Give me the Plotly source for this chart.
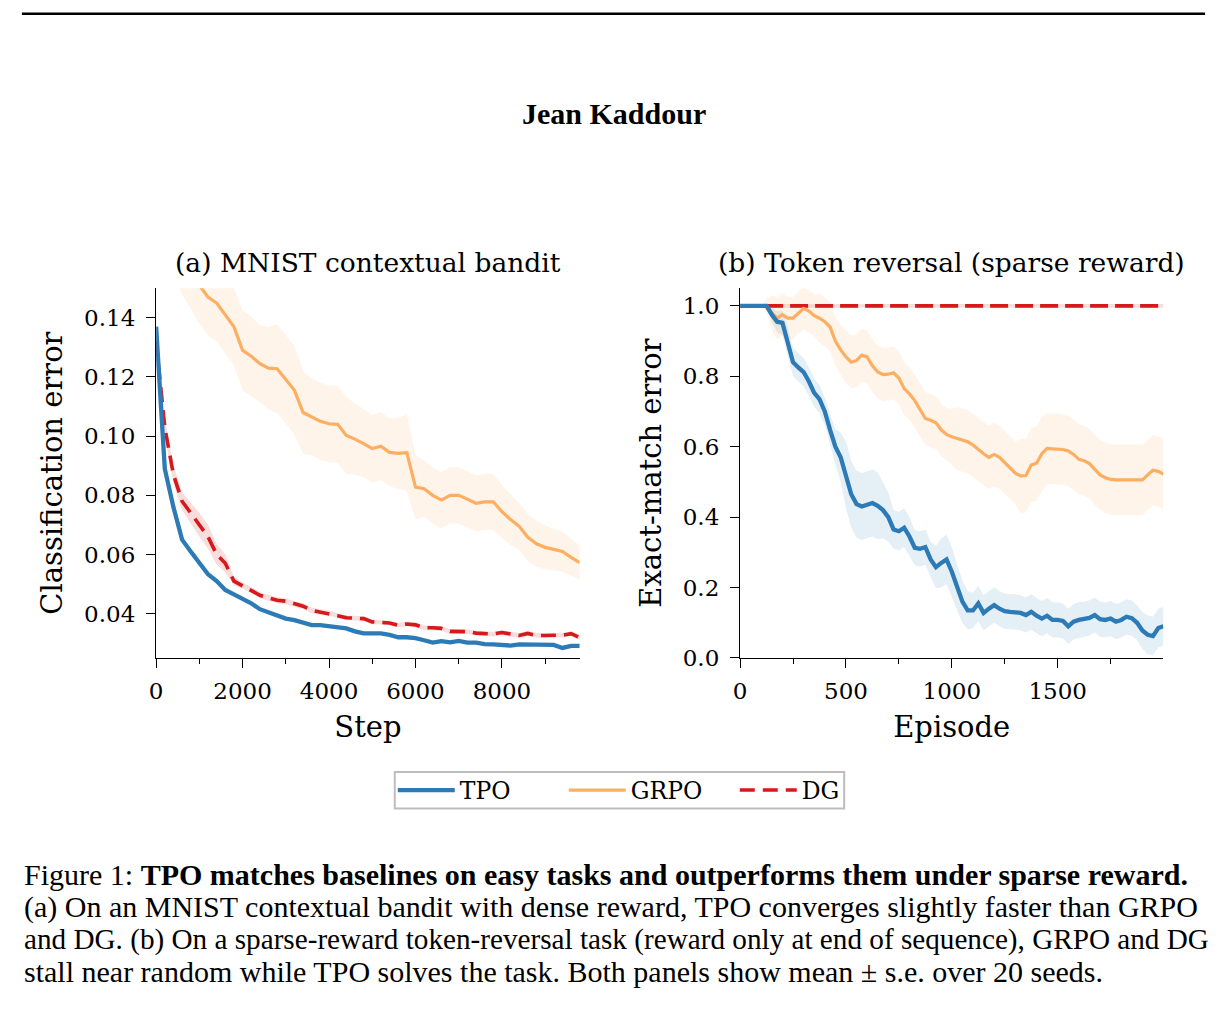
import plotly.graph_objects as go

# ---------------- data: (a) MNIST contextual bandit ----------------
steps = [0, 200, 400, 600, 800, 1000, 1200, 1400, 1600, 1800,
         2000, 2200, 2400, 2600, 2800, 3000, 3200, 3400, 3600, 3800,
         4000, 4200, 4400, 4600, 4800, 5000, 5200, 5400, 5600, 5800,
         6000, 6200, 6400, 6600, 6800, 7000, 7200, 7400, 7600, 7800,
         8000, 8200, 8400, 8600, 8800, 9000, 9200, 9400, 9600, 9800]

tpo_a = [0.137, 0.089, 0.076, 0.065, 0.061, 0.057, 0.0533, 0.051, 0.048, 0.0465,
         0.045, 0.0435, 0.0415, 0.0405, 0.0395, 0.0383, 0.0378, 0.037, 0.0361, 0.0361,
         0.0358, 0.0352, 0.035, 0.034, 0.0333, 0.0333, 0.0333, 0.0328, 0.032, 0.032,
         0.0317, 0.031, 0.0302, 0.0307, 0.0303, 0.0308, 0.0302, 0.0302, 0.0297, 0.0296,
         0.0294, 0.0292, 0.0296, 0.0295, 0.0294, 0.0295, 0.0294, 0.0284, 0.0291, 0.0291]
tpo_a_se = [0.001, 0.001, 0.0008, 0.0006, 0.0005, 0.0005, 0.0005, 0.0005, 0.0005, 0.0005,
            0.0004, 0.0004, 0.0004, 0.0004, 0.0004, 0.0004, 0.0004, 0.0004, 0.0004, 0.0004,
            0.0004, 0.0004, 0.0004, 0.0004, 0.0004, 0.0004, 0.0004, 0.0004, 0.0004, 0.0004,
            0.0004, 0.0004, 0.0004, 0.0004, 0.0004, 0.0004, 0.0004, 0.0004, 0.0004, 0.0004,
            0.0004, 0.0004, 0.0004, 0.0004, 0.0004, 0.0004, 0.0004, 0.0004, 0.0004, 0.0004]

grpo_a = [0.19, 0.178, 0.168, 0.161, 0.156, 0.151, 0.147, 0.145, 0.141, 0.137,
          0.129, 0.127, 0.1245, 0.123, 0.1228, 0.119, 0.1155, 0.108, 0.1065, 0.105,
          0.1042, 0.104, 0.1002, 0.099, 0.0975, 0.0958, 0.0966, 0.0945, 0.0942, 0.0944,
          0.0828, 0.0822, 0.080, 0.0784, 0.080, 0.080, 0.0787, 0.0773, 0.0778, 0.0778,
          0.0745, 0.0718, 0.0695, 0.0658, 0.0636, 0.0624, 0.0617, 0.061, 0.059, 0.0572]
grpo_a_se = [0.013, 0.013, 0.013, 0.013, 0.013, 0.013, 0.013, 0.013, 0.013, 0.013,
             0.0135, 0.0135, 0.013, 0.014, 0.015, 0.015, 0.015, 0.014, 0.013, 0.013,
             0.013, 0.013, 0.013, 0.012, 0.0115, 0.0115, 0.0115, 0.0115, 0.012, 0.013,
             0.011, 0.0095, 0.0095, 0.0095, 0.0095, 0.0095, 0.0095, 0.0095, 0.0095, 0.0095,
             0.009, 0.0085, 0.008, 0.008, 0.0078, 0.0075, 0.007, 0.0068, 0.0063, 0.0058]

dg_a = [0.132, 0.103, 0.087, 0.078, 0.074, 0.070, 0.066, 0.060, 0.057, 0.051,
        0.0495, 0.048, 0.0462, 0.0453, 0.0445, 0.0442, 0.0432, 0.0425, 0.0411, 0.0405,
        0.0402, 0.0393, 0.0386, 0.0385, 0.0383, 0.0372, 0.0371, 0.0368, 0.0361, 0.0365,
        0.0362, 0.0352, 0.0352, 0.0350, 0.0340, 0.0339, 0.0339, 0.0334, 0.0333, 0.0331,
        0.0336, 0.0330, 0.0326, 0.0333, 0.0326, 0.0326, 0.0326, 0.0327, 0.0332, 0.0319]
dg_a_se = [0.002, 0.003, 0.003, 0.003, 0.0035, 0.004, 0.004, 0.0035, 0.003, 0.0015,
           0.001, 0.001, 0.001, 0.001, 0.001, 0.001, 0.001, 0.001, 0.001, 0.001,
           0.0008, 0.0008, 0.0008, 0.0008, 0.0008, 0.0008, 0.0008, 0.0008, 0.0008, 0.0008,
           0.0008, 0.0008, 0.0008, 0.0008, 0.0008, 0.0008, 0.0008, 0.0008, 0.0008, 0.0008,
           0.0008, 0.0008, 0.0008, 0.0008, 0.0008, 0.0008, 0.0008, 0.0008, 0.0008, 0.0008]

# ---------------- data: (b) Token reversal (sparse reward) ----------------
episodes = list(range(0, 2000, 25)) + [1999]

tpo_b = [1.0, 1.0, 1.0, 1.0, 1.0, 1.0, 0.975, 0.955, 0.952, 0.90,
         0.84, 0.825, 0.812, 0.785, 0.753, 0.735, 0.70, 0.648, 0.60, 0.57,
         0.52, 0.465, 0.437, 0.43, 0.435, 0.44, 0.432, 0.42, 0.40, 0.365,
         0.36, 0.37, 0.345, 0.313, 0.31, 0.315, 0.28, 0.258, 0.27, 0.28,
         0.245, 0.20, 0.16, 0.135, 0.135, 0.155, 0.128, 0.14, 0.15, 0.14,
         0.133, 0.131, 0.131, 0.128, 0.122, 0.131, 0.12, 0.112, 0.12, 0.108,
         0.108, 0.105, 0.09, 0.103, 0.108, 0.11, 0.114, 0.122, 0.11, 0.108,
         0.112, 0.103, 0.108, 0.117, 0.113, 0.100, 0.078, 0.066, 0.062, 0.085,
         0.09]
tpo_b_se = [0.0, 0.0, 0.0, 0.0, 0.0, 0.0, 0.02, 0.03, 0.035, 0.04,
            0.04, 0.04, 0.04, 0.04, 0.04, 0.04, 0.04, 0.045, 0.05, 0.07,
            0.095, 0.095, 0.095, 0.095, 0.095, 0.095, 0.095, 0.08, 0.07, 0.055,
            0.055, 0.055, 0.055, 0.05, 0.05, 0.05, 0.05, 0.06, 0.07, 0.07,
            0.07, 0.065, 0.06, 0.055, 0.05, 0.05, 0.05, 0.05, 0.05, 0.05,
            0.05, 0.05, 0.05, 0.05, 0.05, 0.05, 0.05, 0.05, 0.05, 0.05,
            0.05, 0.05, 0.05, 0.05, 0.05, 0.05, 0.05, 0.05, 0.05, 0.05,
            0.05, 0.05, 0.05, 0.05, 0.05, 0.05, 0.052, 0.055, 0.055, 0.055,
            0.055]

grpo_b = [1.0, 1.0, 1.0, 1.0, 1.0, 1.0, 0.98, 0.965, 0.975, 0.965,
          0.965, 0.98, 0.993, 0.985, 0.972, 0.965, 0.955, 0.94, 0.90, 0.875,
          0.855, 0.84, 0.845, 0.86, 0.855, 0.83, 0.812, 0.805, 0.806, 0.81,
          0.795, 0.765, 0.75, 0.731, 0.705, 0.68, 0.675, 0.668, 0.648, 0.635,
          0.628, 0.623, 0.618, 0.614, 0.605, 0.592, 0.58, 0.57, 0.578, 0.57,
          0.555, 0.542, 0.525, 0.517, 0.518, 0.548, 0.553, 0.58, 0.595, 0.594,
          0.593, 0.592, 0.588, 0.578, 0.564, 0.56, 0.552, 0.535, 0.52, 0.512,
          0.507, 0.506, 0.506, 0.506, 0.506, 0.505, 0.506, 0.52, 0.533, 0.53,
          0.522]
grpo_b_se = [0.0, 0.0, 0.0, 0.0, 0.0, 0.02, 0.05, 0.06, 0.06, 0.06,
             0.06, 0.06, 0.06, 0.06, 0.06, 0.07, 0.07, 0.07, 0.07, 0.07,
             0.075, 0.075, 0.075, 0.075, 0.075, 0.075, 0.075, 0.075, 0.075, 0.075,
             0.075, 0.075, 0.075, 0.075, 0.075, 0.075, 0.075, 0.075, 0.075, 0.075,
             0.08, 0.09, 0.09, 0.09, 0.09, 0.09, 0.09, 0.09, 0.09, 0.09,
             0.09, 0.09, 0.09, 0.105, 0.105, 0.105, 0.105, 0.105, 0.1, 0.1,
             0.1, 0.1, 0.1, 0.1, 0.1, 0.1, 0.1, 0.1, 0.1, 0.1,
             0.1, 0.1, 0.1, 0.1, 0.1, 0.1, 0.1, 0.1, 0.1, 0.1,
             0.1]

dg_b = [1.0] * len(episodes)
dg_b_se = [0.005] * len(episodes)

# ---------------- labels ----------------
method_names = ["TPO", "GRPO", "DG"]
panel_titles = ["(a) MNIST contextual bandit", "(b) Token reversal (sparse reward)"]
x_titles = ["Step", "Episode"]
y_titles = ["Classification error", "Exact-match error"]
header_text = "Jean Kaddour"
caption_lines = [
    "Figure 1: <b>TPO matches baselines on easy tasks and outperforms them under sparse reward.</b>",
    "(a) On an MNIST contextual bandit with dense reward, TPO converges slightly faster than GRPO",
    "and DG. (b) On a sparse-reward token-reversal task (reward only at end of sequence), GRPO and DG",
    "stall near random while TPO solves the task. Both panels show mean \u00b1 s.e. over 20 seeds.",
]

# ---------------- style ----------------
W, H = 1225, 1016
BLUE, ORANGE, RED = "#2c7bb6", "#fdae61", "#d7191c"
BLUE_F, ORANGE_F, RED_F = "rgba(44,123,182,0.12)", "rgba(253,174,97,0.14)", "rgba(215,25,28,0.15)"
SERIF = "DejaVu Serif"
TIMES = "Liberation Serif"
TICK_SIZE, LABEL_SIZE, TITLE_SIZE = 23, 29, 26.5
caption_sizes = [30, 30, 29.2, 30]

fig = go.Figure()


def band(x, m, s, color, xa, ya):
    up = [a + b for a, b in zip(m, s)]
    lo = [a - b for a, b in zip(m, s)]
    fig.add_trace(go.Scatter(x=list(x) + list(x)[::-1], y=up + lo[::-1], fill="toself",
                             fillcolor=color, line=dict(width=0), mode="lines",
                             hoverinfo="skip", showlegend=False, xaxis=xa, yaxis=ya))


def line(x, m, color, width, name, xa, ya, show, rank, dash="solid"):
    fig.add_trace(go.Scatter(x=x, y=m, mode="lines", name=name,
                             line=dict(color=color, width=width, dash=dash),
                             showlegend=show, legendrank=rank, xaxis=xa, yaxis=ya))


# panel (a)
band(steps, dg_a, dg_a_se, RED_F, "x", "y")
band(steps, grpo_a, grpo_a_se, ORANGE_F, "x", "y")
band(steps, tpo_a, tpo_a_se, BLUE_F, "x", "y")
line(steps, dg_a, RED, 3.6, method_names[2], "x", "y", True, 3, dash="15px,8px")
line(steps, grpo_a, ORANGE, 3.2, method_names[1], "x", "y", True, 2)
line(steps, tpo_a, BLUE, 4.3, method_names[0], "x", "y", True, 1)
# panel (b)
band(episodes, dg_b, dg_b_se, RED_F, "x2", "y2")
band(episodes, grpo_b, grpo_b_se, ORANGE_F, "x2", "y2")
band(episodes, tpo_b, tpo_b_se, BLUE_F, "x2", "y2")
line(episodes, dg_b, RED, 3.6, method_names[2], "x2", "y2", False, 3, dash="18px,7px")
line(episodes, grpo_b, ORANGE, 3.2, method_names[1], "x2", "y2", False, 2)
line(episodes, tpo_b, BLUE, 4.3, method_names[0], "x2", "y2", False, 1)

ydom = [1 - 666.5 / H, 1 - 292 / H]
common = dict(showline=True, linecolor="black", linewidth=1.4, ticks="outside", ticklen=9,
              tickwidth=1.4, tickcolor="black", showgrid=False, zeroline=False,
              tickfont=dict(family=SERIF, size=TICK_SIZE, color="black"))
lab_font = dict(family=SERIF, size=LABEL_SIZE, color="black")
minor_x = dict(ticklen=5, tickwidth=1.2, tickcolor="black", ticks="outside", showgrid=False)

fig.update_layout(
    width=W, height=H, margin=dict(l=0, r=0, t=0, b=0),
    paper_bgcolor="white", plot_bgcolor="white",
    xaxis=dict(domain=[150 / W, 576 / W], range=[0, 9800], tickvals=[0, 2000, 4000, 6000, 8000],
               minor=dict(dtick=1000, **minor_x), ticklabelstandoff=3,
               title=dict(text=x_titles[0], font=lab_font, standoff=13),
               anchor="y", **common),
    yaxis=dict(domain=ydom, range=[0.025, 0.15], tickvals=[0.04, 0.06, 0.08, 0.10, 0.12, 0.14],
               tickformat=".2f", anchor="x", ticklabelstandoff=6,
               title=dict(text=y_titles[0], font=lab_font, standoff=12),
               **common),
    xaxis2=dict(domain=[737.3 / W, 1163 / W], range=[0, 1999], tickvals=[0, 500, 1000, 1500],
                minor=dict(dtick=250, **minor_x), ticklabelstandoff=3,
                title=dict(text=x_titles[1], font=lab_font, standoff=13),
                anchor="y2", **common),
    yaxis2=dict(domain=ydom, range=[0, 1.05], tickvals=[0.0, 0.2, 0.4, 0.6, 0.8, 1.0],
                tickformat=".1f", anchor="x2", ticklabelstandoff=6,
                title=dict(text=y_titles[1], font=lab_font, standoff=12),
                **common),
    legend=dict(orientation="h", x=388 / W, xanchor="left", y=1 - 800.5 / H, yanchor="middle",
                font=dict(family=SERIF, size=23.5, color="black"), borderwidth=0,
                bgcolor="rgba(0,0,0,0)", entrywidth=99, itemwidth=57),
    showlegend=True,
)

# legend frame
fig.add_shape(type="rect", xref="paper", yref="paper", x0=390 / W, x1=842 / W,
              y0=1 - 819 / H, y1=1 - 782 / H, line=dict(color="#bdbdbd", width=2),
              fillcolor="white", layer="below")

# top rule
fig.add_shape(type="line", xref="paper", yref="paper", x0=15 / W, x1=1205 / W,
              y0=1 - 14 / H, y1=1 - 14 / H, line=dict(color="black", width=2.5))

# header
fig.add_annotation(text="<b>" + header_text + "</b>", xref="paper", yref="paper",
                   x=610 / W, y=1 - 115 / H, xanchor="center", yanchor="middle", showarrow=False,
                   font=dict(family=TIMES, size=30, color="black"))

# panel titles
for t, cx in zip(panel_titles, [363, 950]):
    fig.add_annotation(text=t, xref="paper", yref="paper", x=cx / W, y=1 - 266 / H,
                       xanchor="center", yanchor="middle", showarrow=False,
                       font=dict(family=SERIF, size=TITLE_SIZE, color="black"))

# caption
for i, (t, fs) in enumerate(zip(caption_lines, caption_sizes)):
    fig.add_annotation(text=t, xref="paper", yref="paper", x=15 / W, y=1 - (886 + 32.7 * i) / H,
                       xanchor="left", yanchor="middle", showarrow=False, align="left",
                       font=dict(family=TIMES, size=fs, color="black"))

fig.write_html("out.html", post_script="document.body.style.margin='0';")
